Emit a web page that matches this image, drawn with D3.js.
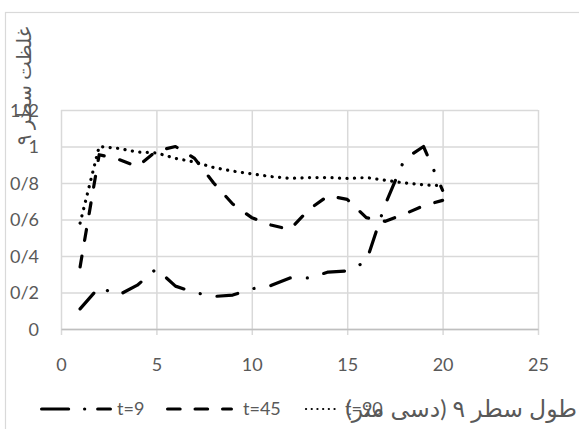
<!DOCTYPE html>
<html>
<head>
<meta charset="utf-8">
<script src="https://cdn.jsdelivr.net/npm/d3@7/dist/d3.min.js"></script>
<style>
  html, body { margin: 0; padding: 0; background: #fff; }
  svg { display: block; }
  text { font-family: Lato, "DejaVu Sans", sans-serif; fill: #595959; }
</style>
</head>
<body>
<svg id="chart" width="579" height="429"></svg>
<script>
// Row position along the line (decimetres)
const distance = [1, 2, 3, 4, 5, 6, 7, 8, 9, 10, 11, 12, 13, 14, 15, 16, 17, 18, 19, 20];

// Relative concentration at three sampling times
const t9  = [0.11, 0.23, 0.185, 0.24, 0.33, 0.235, 0.20, 0.178, 0.186, 0.22, 0.238, 0.28, 0.28, 0.312, 0.318, 0.37, 0.685, 0.93, 1.0, 0.76];
const t45 = [0.34, 0.955, 0.93, 0.89, 0.975, 1.0, 0.935, 0.80, 0.685, 0.61, 0.57, 0.545, 0.655, 0.73, 0.71, 0.61, 0.59, 0.63, 0.675, 0.705];
const t90 = [0.58, 1.0, 0.99, 0.97, 0.965, 0.935, 0.915, 0.885, 0.865, 0.85, 0.835, 0.825, 0.83, 0.83, 0.825, 0.83, 0.815, 0.80, 0.79, 0.785];

const seriesNames = ["t=9", "t=45", "t=90"];

const xTicks = [0, 5, 10, 15, 20, 25];
const yTicks = [0, 0.2, 0.4, 0.6, 0.8, 1, 1.2];
const yTickLabels = ["0", "0/2", "0/4", "0/6", "0/8", "1", "1/2"];

const xTitle = "طول سطر ۹ (دسی متر)";
const yTitle = "غلظت سطر ۹";

const svg = d3.select("#chart");

// outer chart frame
svg.append("rect")
  .attr("x", 5.5).attr("y", 12.5)
  .attr("width", 700).attr("height", 600)
  .attr("fill", "none").attr("stroke", "#d9d9d9").attr("stroke-width", 1.2);

const plot = { left: 61, right: 538, top: 110, bottom: 329 };
const plotH = plot.bottom - plot.top;

const x = d3.scaleLinear().domain([0, 25]).range([plot.left, plot.right]);
const y = d3.scaleLinear().domain([0, 1.2]).range([plot.bottom, plot.top]);

// horizontal gridlines + y tick labels
const yAxis = svg.append("g")
  .attr("transform", `translate(${plot.left},0)`)
  .call(d3.axisLeft(y).tickValues(yTicks)
    .tickFormat((d, i) => yTickLabels[i])
    .tickSize(-(plot.right - plot.left)).tickPadding(0));
yAxis.select(".domain").remove();
yAxis.selectAll(".tick line").attr("stroke", "#d9d9d9").attr("stroke-width", 1.5);
yAxis.selectAll(".tick text")
  .attr("x", -22).attr("dy", "0.35em")
  .style("font-size", "18px").style("fill", "#595959");

// vertical gridlines with tick marks below the axis
const xGrid = svg.append("g")
  .attr("transform", `translate(0,${plot.bottom})`)
  .call(d3.axisBottom(x).tickValues(xTicks).tickSize(-plotH).tickFormat(""));
xGrid.select(".domain").remove();
xGrid.selectAll(".tick line").attr("y2", 6).attr("y1", -plotH)
  .attr("stroke", "#d9d9d9").attr("stroke-width", 1.5);

// x axis line and labels
const xAxis = svg.append("g")
  .attr("transform", `translate(0,${plot.bottom})`)
  .call(d3.axisBottom(x).tickValues(xTicks).tickSize(0).tickSizeOuter(0));
xAxis.select(".domain").attr("stroke", "#bfbfbf").attr("stroke-width", 1.5);
xAxis.selectAll(".tick text")
  .attr("y", 36).attr("dy", "0.35em")
  .style("font-size", "18px").style("fill", "#595959");

// series lines
const styles = [
  { data: t9,  dash: "21 17 0.1 17" },
  { data: t45, dash: "11 16" },
  { data: t90, dash: "0.1 7.4" }
];
const line = d3.line().x((d, i) => x(distance[i])).y(d => y(d));
styles.forEach(s => {
  svg.append("path")
    .datum(s.data)
    .attr("d", line)
    .attr("fill", "none")
    .attr("stroke", "#000")
    .attr("stroke-width", 3.2)
    .attr("stroke-linecap", "round")
    .attr("stroke-linejoin", "round")
    .attr("stroke-dasharray", s.dash);
});

// legend
const legendY = 409;
const legendItems = [
  { x0: 41.6, x1: 110.4, tx: 117, dash: "27 16 0.1 13" },
  { x0: 167.6, x1: 231.4, tx: 243, dash: "12.5 15" },
  { x0: 306, x1: 340, tx: 345, dash: "0.1 5.6" }
];
legendItems.forEach((it, i) => {
  svg.append("line")
    .attr("x1", it.x0).attr("x2", it.x1)
    .attr("y1", legendY).attr("y2", legendY)
    .attr("stroke", "#000").attr("stroke-width", i === 2 ? 2.2 : 3.2)
    .attr("stroke-linecap", "round")
    .attr("stroke-dasharray", it.dash);
  svg.append("text")
    .attr("x", it.tx).attr("y", legendY).attr("dy", "0.35em")
    .style("font-size", "18px")
    .text(seriesNames[i]);
});

// axis titles (right-to-left script, anchored at their right edge)
svg.append("text")
  .attr("x", 577).attr("y", legendY).attr("dy", "0.35em")
  .attr("direction", "rtl")
  .attr("text-anchor", "start")
  .style("font-size", "23.5px")
  .text(xTitle);

svg.append("text")
  .attr("transform", "translate(24,86) rotate(-90)")
  .attr("direction", "rtl")
  .attr("text-anchor", "middle")
  .attr("dy", "0.35em")
  .style("font-size", "20px")
  .text(yTitle);
</script>
</body>
</html>
